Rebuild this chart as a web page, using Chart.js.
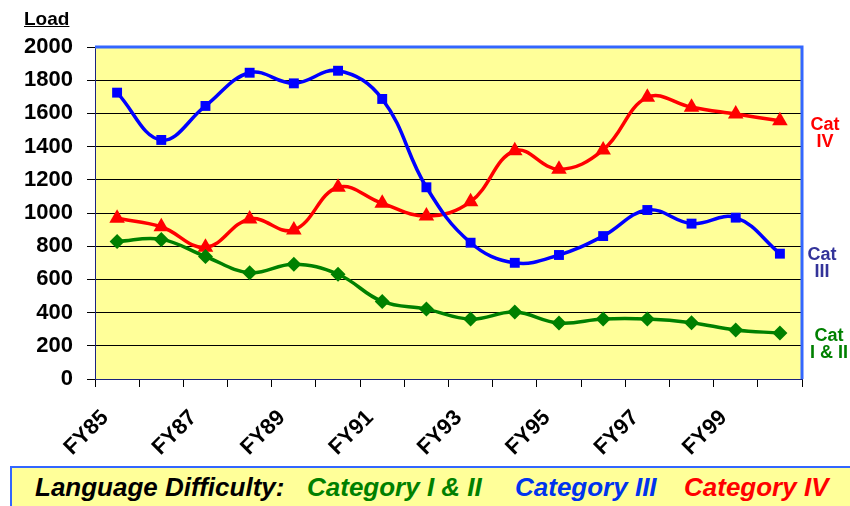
<!DOCTYPE html>
<html>
<head>
<meta charset="utf-8">
<script src="https://cdn.jsdelivr.net/npm/chart.js@4"></script>
<style>
    body { margin: 0; background: #fff; }
    #wrap { position: relative; width: 850px; height: 506px; overflow: hidden; font-family: Arial, "Liberation Sans", sans-serif; }
    canvas { position: absolute; left: 0; top: 0; }
    .load { position: absolute; left: 24px; top: 8px; font-weight: bold; font-size: 19px; text-decoration: underline; }
    .cat { position: absolute; font-weight: bold; font-size: 18px; line-height: 17px; text-align: center; width: 50px; }
    .legend {
        position: absolute; left: 10px; top: 466px; width: 850px; height: 42px;
        background: #ffff99; border-top: 2px solid #3366ff; border-left: 2px solid #3366ff;
        font-family: Arial, "Liberation Sans", sans-serif;
        font-style: italic; font-weight: bold; font-size: 26px; white-space: nowrap;
    }
    .legend span { position: absolute; top: 4px; }
</style>
</head>
<body>
<div id="wrap">
    <canvas id="chartLoad" width="850" height="506"></canvas>
    <div class="load">Load</div>
    <div class="cat" style="left:800px; top:116px; color:#ff0000;">Cat<br>IV</div>
    <div class="cat" style="left:797px; top:246px; color:#333399;">Cat<br>III</div>
    <div class="cat" style="left:804px; top:327px; color:#008000;">Cat<br>I &amp; II</div>
    <div class="legend">
        <span style="left:23px; color:#000;">Language Difficulty:</span>
        <span style="left:295px; color:#008000;">Category I &amp; II</span>
        <span style="left:503px; color:#0033ee;">Category III</span>
        <span style="left:672px; color:#ff0000;">Category IV</span>
    </div>
</div>
<script>
    const fiscalYears = ["FY85", "FY86", "FY87", "FY88", "FY89", "FY90", "FY91", "FY92",
        "FY93", "FY94", "FY95", "FY96", "FY97", "FY98", "FY99", "FY00"];
    const catOneTwo = [828, 841, 738, 640, 691, 631, 467, 421, 361, 403, 337, 361, 361, 339, 295, 277];
    const catThree = [1725, 1440, 1645, 1845, 1781, 1857, 1687, 1155, 821, 700, 747, 861, 1018, 936, 972, 755];
    const catFour = [968, 917, 793, 964, 898, 1155, 1058, 982, 1068, 1375, 1263, 1380, 1697, 1637, 1596, 1556];
    const yTicks = [0, 200, 400, 600, 800, 1000, 1200, 1400, 1600, 1800, 2000];

    // fondo amarillo y marco azul del area de trazado
    const plotFrame = {
        id: "plotFrame",
        beforeDraw(chart) {
            const { ctx, chartArea: a } = chart;
            ctx.save();
            ctx.fillStyle = "#ffff99";
            ctx.fillRect(a.left, a.top, a.right - a.left, a.bottom - a.top);
            ctx.restore();
        },
        beforeDatasetsDraw(chart) {
            const { ctx, chartArea: a } = chart;
            ctx.save();
            ctx.strokeStyle = "#3366ff";
            ctx.lineWidth = 3;
            ctx.beginPath();
            ctx.moveTo(a.left, a.top);
            ctx.lineTo(a.right, a.top);
            ctx.lineTo(a.right, a.bottom);
            ctx.stroke();
            ctx.restore();
        },
    };

    const makeSet = (label, data, color, style, radius) => ({
        label: label,
        data: data,
        borderColor: color,
        backgroundColor: color,
        borderWidth: 3.5,
        tension: 0.4,
        pointStyle: style,
        pointRadius: radius,
        pointBorderWidth: 0,
        pointHoverRadius: radius,
    });

    const data = {
        labels: fiscalYears,
        datasets: [
            makeSet("Category I & II", catOneTwo, "#008000", "rectRot", 7.5),
            makeSet("Category III", catThree, "#0000ff", "rect", 7),
            makeSet("Category IV", catFour, "#ff0000", "triangle", 9),
        ],
    };

    const tickFont = { family: "Arial, 'Liberation Sans'", size: 22, weight: "bold" };

    new Chart(document.getElementById("chartLoad"), {
        type: "line",
        data: data,
        plugins: [plotFrame],
        options: {
            responsive: false,
            animation: false,
            layout: { padding: { left: 0, top: 47, right: 48, bottom: 40 } },
            plugins: { legend: { display: false }, tooltip: { enabled: false } },
            scales: {
                x: {
                    offset: true,
                    grid: {
                        offset: true,
                        drawOnChartArea: false,
                        drawTicks: true,
                        tickLength: 8,
                        color: "#000",
                    },
                    border: { color: "#1a237e", width: 1 },
                    ticks: {
                        autoSkip: false,
                        minRotation: 45,
                        maxRotation: 45,
                        padding: 18,
                        labelOffset: -12,
                        color: "#000",
                        font: tickFont,
                        callback: function(value, index) {
                            return index % 2 === 0 ? fiscalYears[index] : "";
                        },
                    },
                    afterFit: (scale) => { scale.height = 87; },
                },
                y: {
                    min: 0,
                    max: 2000,
                    afterBuildTicks: (scale) => {
                        scale.ticks = yTicks.map((v) => ({ value: v }));
                    },
                    grid: { color: "#000", lineWidth: 1, tickLength: 8 },
                    border: { color: "#1a237e", width: 1 },
                    ticks: {
                        padding: 14,
                        color: "#000",
                        font: tickFont,
                        callback: (value) => String(value),
                    },
                    afterFit: (scale) => { scale.width = 95; },
                },
            },
        },
    });
</script>
</body>
</html>
